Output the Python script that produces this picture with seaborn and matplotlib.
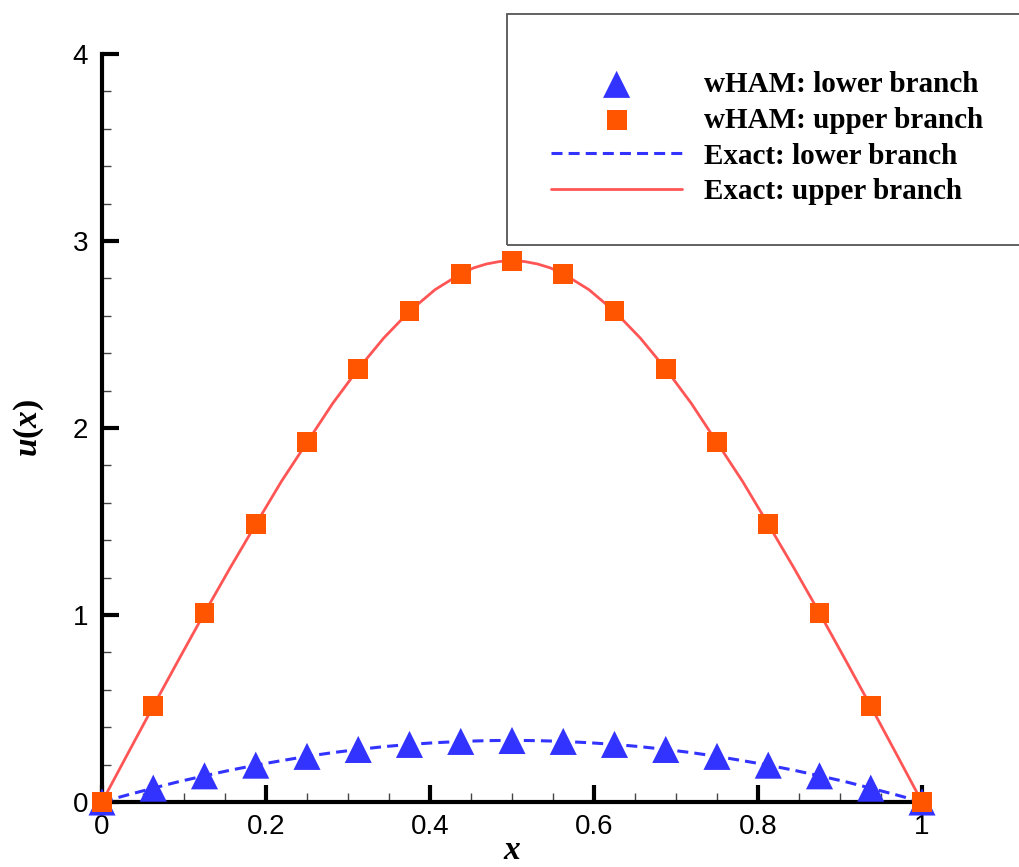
import numpy as np
import pandas as pd
import matplotlib
matplotlib.use("Agg")
import matplotlib.pyplot as plt
from matplotlib.patches import Rectangle
from matplotlib.ticker import MultipleLocator
import seaborn as sns

# ---- data ----
x_markers = [0, 0.0625, 0.125, 0.1875, 0.25, 0.3125, 0.375, 0.4375, 0.5,
             0.5625, 0.625, 0.6875, 0.75, 0.8125, 0.875, 0.9375, 1.0]
wham_lower = [0, 0.074, 0.140, 0.197, 0.244, 0.281, 0.308, 0.324, 0.329,
              0.324, 0.308, 0.281, 0.244, 0.197, 0.140, 0.074, 0]
wham_upper = [0, 0.512, 1.011, 1.485, 1.923, 2.316, 2.624, 2.825, 2.895,
              2.825, 2.624, 2.316, 1.923, 1.485, 1.011, 0.512, 0]

x_exact = [0, 0.03125, 0.0625, 0.09375, 0.125, 0.15625, 0.1875, 0.21875, 0.25,
           0.28125, 0.3125, 0.34375, 0.375, 0.40625, 0.4375, 0.453125,
           0.46875, 0.484375, 0.5, 0.515625, 0.53125, 0.546875,
           0.5625, 0.59375, 0.625, 0.65625, 0.6875, 0.71875, 0.75,
           0.78125, 0.8125, 0.84375, 0.875, 0.90625, 0.9375, 0.96875, 1.0]
exact_lower = [0, 0.038, 0.074, 0.109, 0.140, 0.170, 0.197, 0.221, 0.244,
               0.264, 0.281, 0.296, 0.308, 0.317, 0.324, 0.326,
               0.328, 0.329, 0.329, 0.329, 0.328, 0.326,
               0.324, 0.317, 0.308, 0.296, 0.281, 0.264, 0.244,
               0.221, 0.197, 0.170, 0.140, 0.109, 0.074, 0.038, 0]
exact_upper = [0, 0.257, 0.512, 0.763, 1.011, 1.252, 1.485, 1.714, 1.923,
               2.131, 2.316, 2.482, 2.624, 2.740, 2.825, 2.856,
               2.877, 2.890, 2.895, 2.890, 2.877, 2.856,
               2.825, 2.740, 2.624, 2.482, 2.316, 2.131, 1.923,
               1.714, 1.485, 1.252, 1.011, 0.763, 0.512, 0.257, 0]

labels = ["wHAM: lower branch", "wHAM: upper branch",
          "Exact: lower branch", "Exact: upper branch"]
x_ticks = [0, 0.2, 0.4, 0.6, 0.8, 1]
x_ticklabels = ["0", "0.2", "0.4", "0.6", "0.8", "1"]
y_ticks = [0, 1, 2, 3, 4]
y_ticklabels = ["0", "1", "2", "3", "4"]

BLUE = "#3333FF"
ORANGE = "#FF5500"
RED = "#FF5555"

sns.set_theme(style="ticks")
plt.rcParams["font.family"] = ["Liberation Sans", "DejaVu Sans"]
plt.rcParams["mathtext.fontset"] = "custom"
plt.rcParams["mathtext.rm"] = "Liberation Serif"
plt.rcParams["mathtext.bf"] = "Liberation Serif:bold"
plt.rcParams["mathtext.it"] = "Liberation Serif:italic"
plt.rcParams["mathtext.bfit"] = "Liberation Serif:italic:bold"

fig = plt.figure(figsize=(10.19, 8.67), dpi=100)
ax = fig.add_axes([102 / 1019, 65 / 867, 820 / 1019, 748 / 867])

df_exact = pd.DataFrame({"x": x_exact, "lower": exact_lower, "upper": exact_upper})
df_mark = pd.DataFrame({"x": x_markers, "lower": wham_lower, "upper": wham_upper})

sns.lineplot(data=df_exact, x="x", y="lower", ax=ax, color=BLUE, lw=2.2,
             dashes=False, linestyle=(0, (3.6, 2.0)), label=labels[2],
             zorder=3, clip_on=False)
sns.lineplot(data=df_exact, x="x", y="upper", ax=ax, color=RED, lw=2.0,
             label=labels[3], zorder=3, clip_on=False)
sns.scatterplot(data=df_mark, x="x", y="lower", ax=ax, marker="^", s=380,
                color=BLUE, edgecolor="none", label=labels[0], zorder=4,
                clip_on=False)
sns.scatterplot(data=df_mark, x="x", y="upper", ax=ax, marker="s", s=205,
                color=ORANGE, edgecolor="none", label=labels[1], zorder=5,
                clip_on=False)

ax.set_xlim(0, 1)
ax.set_ylim(0, 4)
ax.set_xticks(x_ticks)
ax.set_xticklabels(x_ticklabels)
ax.set_yticks(y_ticks)
ax.set_yticklabels(y_ticklabels)
ax.xaxis.set_minor_locator(MultipleLocator(0.05))
ax.yaxis.set_minor_locator(MultipleLocator(0.2))

for s in ["top", "right"]:
    ax.spines[s].set_visible(False)
for s in ["left", "bottom"]:
    ax.spines[s].set_linewidth(3)
    ax.spines[s].set_color("black")
    ax.spines[s].set_capstyle("projecting")

ax.tick_params(which="major", direction="in", length=12, width=3,
               labelsize=20, color="black", labelcolor="black", pad=9)
ax.tick_params(which="minor", direction="in", length=6.5, width=1,
               color="#444444")
ax.tick_params(axis="y", which="major", pad=10)

ax.set_xlabel(r"$\mathbfit{x}$", fontsize=24, labelpad=-4, color="black")
ax.set_ylabel(r"$\mathbfit{u}\mathbf{(}\mathbfit{x}\mathbf{)}$", fontsize=24,
              labelpad=19, color="black")

handles, lbls = ax.get_legend_handles_labels()
order = [lbls.index(l) for l in labels]
serif = ["Liberation Serif", "DejaVu Serif"]
leg = ax.legend([handles[i] for i in order], [lbls[i] for i in order],
                loc="upper left", bbox_to_anchor=(551 / 1019, 1 - 71 / 867),
                bbox_transform=fig.transFigure, frameon=False,
                prop={"family": serif, "weight": "bold", "size": 21},
                handlelength=4.5, handletextpad=0.75, labelspacing=0.3,
                borderaxespad=0, borderpad=0, markerscale=1.0)
for t in leg.get_texts():
    t.set_color("black")

fig.patches.append(Rectangle((507 / 1019, 1 - 245 / 867), 530 / 1019, 231 / 867,
                             transform=fig.transFigure, fill=False,
                             edgecolor="#555555", lw=1.3, zorder=10))

fig.savefig("out.png", dpi=100)
